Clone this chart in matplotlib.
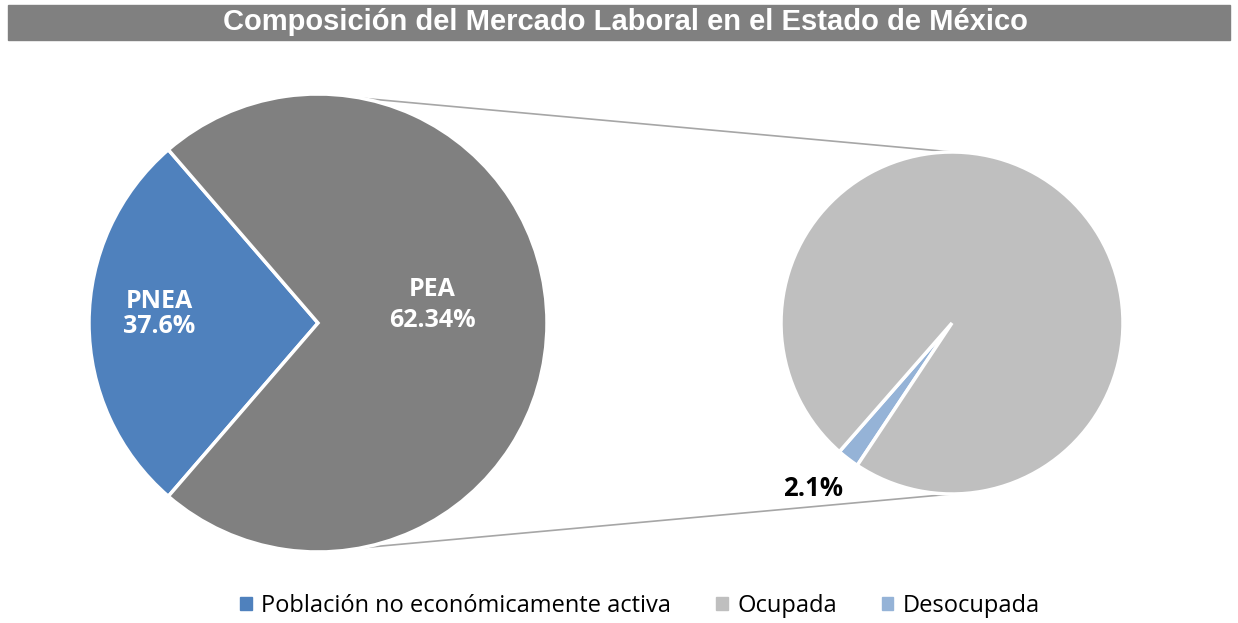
import matplotlib
matplotlib.use("Agg")
import matplotlib.pyplot as plt
import numpy as np

# Data
main_labels = ["Población no económicamente activa", "PEA"]
main_values = [37.6, 100.0]          # PNEA vs. (Ocupada + Desocupada)
main_text = ["PNEA\n37.6%", "PEA\n62.34%"]
sub_labels = ["Desocupada", "Ocupada"]
sub_values = [2.1, 97.9]
sub_text = ["2.1%", ""]
title = "Composición del Mercado Laboral en el Estado de México"

C_PNEA = "#4F81BD"
C_PEA = "#808080"
C_OCU = "#BFBFBF"
C_DES = "#95B3D7"

W, H = 1238, 623
fig = plt.figure(figsize=(W / 100, H / 100), dpi=100)
ax = fig.add_axes([0, 0, 1, 1])

font = ["Open Sans", "DejaVu Sans"]

# Title banner
ax.add_patch(plt.Rectangle((8, H - 40), 1222, 35, color="#808080", zorder=1))
ax.text(625, H - 22.5, title, ha="center", va="center", color="white",
        fontsize=21, fontweight="bold",
        family=["Liberation Sans", "DejaVu Sans"])

# Left pie
lc = (318, H - 323)
lr = 229
frac = main_values[0] / sum(main_values)
start = 180 - frac * 360 / 2
wl, _ = ax.pie(main_values, colors=[C_PNEA, C_PEA], center=lc, radius=lr,
               startangle=start, counterclock=True,
               wedgeprops=dict(edgecolor="white", linewidth=2.5), frame=True)

# Right pie
rc = (952, H - 323)
rr = 171
wr, _ = ax.pie(sub_values, colors=[C_DES, C_OCU], center=rc, radius=rr,
               startangle=228.8, counterclock=True,
               wedgeprops=dict(edgecolor="white", linewidth=2.5), frame=True)
ax.set_xlim(0, W)
ax.set_ylim(0, H)
ax.set_aspect("equal")
ax.axis("off")

# Connector lines
a = np.deg2rad(79)
for sgn in (1, -1):
    x0 = lc[0] + lr * np.cos(a)
    y0 = lc[1] + sgn * lr * np.sin(a)
    x1 = rc[0]
    y1 = rc[1] + sgn * rr
    ax.plot([x0, x1], [y0, y1], color="#A6A6A6", lw=1.2, zorder=0)

# Labels
ax.text(159, H - 314, main_text[0], ha="center", va="center", color="white",
        fontsize=18, fontweight="bold", family=font, linespacing=0.95)
ax.text(432, H - 305, main_text[1], ha="center", va="center", color="white",
        fontsize=18, fontweight="bold", family=font, linespacing=1.35)
ax.text(813, H - 488, sub_text[0], ha="center", va="center", color="black",
        fontsize=18.5, fontweight="bold", family=font)

# Legend
from matplotlib.patches import Patch
handles = [Patch(color=C_PNEA), Patch(color=C_OCU), Patch(color=C_DES)]
leg = fig.legend(handles, [main_labels[0], sub_labels[1], sub_labels[0]],
                 loc="center", bbox_to_anchor=(640 / W, 1 - 606 / H), ncol=3,
                 frameon=False, prop=dict(family=font, size=17),
                 handlelength=0.5, handleheight=0.5, handletextpad=0.4,
                 columnspacing=1.9)

fig.savefig("out.png", dpi=100)
